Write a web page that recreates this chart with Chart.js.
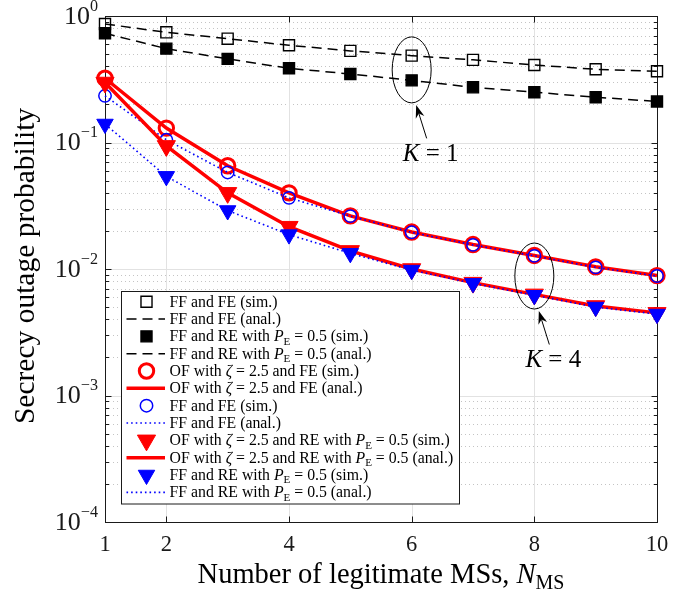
<!DOCTYPE html>
<html>
<head>
<meta charset="utf-8">
<script src="https://cdn.jsdelivr.net/npm/chart.js@4/dist/chart.umd.min.js"></script>
<style>
  body { margin: 0; background: #fff; }
</style>
</head>
<body>
<canvas id="chart" width="697" height="596"></canvas>
<script>
// number of legitimate MSs
const nms = [1, 2, 3, 4, 5, 6, 7, 8, 9, 10];

// K = 1
const ffFeK1 = [0.865, 0.743, 0.662, 0.587, 0.530, 0.486, 0.450, 0.410, 0.379, 0.366];
const ffReK1 = [0.730, 0.552, 0.458, 0.386, 0.348, 0.310, 0.273, 0.250, 0.228, 0.211];
// K = 4
const ofFeK4 = [0.322, 0.130, 0.0655, 0.0400, 0.0263, 0.0196, 0.0156, 0.0128, 0.0104, 0.00887];
const ffFeK4 = [0.234, 0.105, 0.0580, 0.0365, 0.0262, 0.0195, 0.0155, 0.0127, 0.0103, 0.00880];
const ofReK4 = [0.298, 0.094, 0.0400, 0.0216, 0.0139, 0.0100, 0.0078, 0.0063, 0.0051, 0.0045];
const ffReK4 = [0.140, 0.054, 0.0290, 0.0187, 0.0133, 0.0098, 0.0077, 0.0062, 0.0050, 0.0044];

const xTicks = [1, 2, 4, 6, 8, 10];
const yExponents = [0, -1, -2, -3, -4];

const serif = '"Liberation Serif", "DejaVu Serif", serif';

// legend texts: [text, kind] kind = '' | 'i' | 'sub'
const PE = [['P', 'i'], ['E', 'sub']];
const labels = [
  [['FF and FE (sim.)', '']],
  [['FF and FE (anal.)', '']],
  [['FF and RE with ', ''], ...PE, [' = 0.5 (sim.)', '']],
  [['FF and RE with ', ''], ...PE, [' = 0.5 (anal.)', '']],
  [['OF with ', ''], ['ζ', 'i'], [' = 2.5 and FE (sim.)', '']],
  [['OF with ', ''], ['ζ', 'i'], [' = 2.5 and FE (anal.)', '']],
  [['FF and FE (sim.)', '']],
  [['FF and FE (anal.)', '']],
  [['OF with ', ''], ['ζ', 'i'], [' = 2.5 and RE with ', ''], ...PE, [' = 0.5 (sim.)', '']],
  [['OF with ', ''], ['ζ', 'i'], [' = 2.5 and RE with ', ''], ...PE, [' = 0.5 (anal.)', '']],
  [['FF and RE with ', ''], ...PE, [' = 0.5 (sim.)', '']],
  [['FF and RE with ', ''], ...PE, [' = 0.5 (anal.)', '']]
];

// K annotations (ellipse centre in data units)
const groups = [
  { n: 6, p: 0.375, text: [['K', 'i'], [' = 1', '']] },
  { n: 8, p: 0.0088, text: [['K', 'i'], [' = 4', '']] }
];

function pts(vals) {
  return vals.map((v, i) => ({ x: nms[i], y: v }));
}

function sim(vals, style, radius, fill, stroke, bw, rot) {
  return {
    data: pts(vals), showLine: false, clip: false,
    pointStyle: style, pointRadius: radius, pointRotation: rot || 0,
    pointBackgroundColor: fill, pointBorderColor: stroke, pointBorderWidth: bw,
    pointHoverRadius: radius
  };
}

function anal(vals, color, width, dash) {
  return {
    data: pts(vals), clip: false, pointRadius: 0, pointHoverRadius: 0,
    borderColor: color, borderWidth: width, borderDash: dash, fill: false, tension: 0
  };
}

const none = 'rgba(0,0,0,0)';
const datasets = [
  sim(ffFeK1, 'rect', 7.8, none, '#000', 1.4),
  anal(ffFeK1, '#000', 1.5, [10, 6]),
  sim(ffReK1, 'rect', 7.8, '#000', '#000', 1.4),
  anal(ffReK1, '#000', 1.5, [10, 6]),
  sim(ofFeK4, 'circle', 7.2, none, '#ff0000', 3),
  anal(ofFeK4, '#ff0000', 3.5, []),
  sim(ffFeK4, 'circle', 6.2, none, '#0000ff', 1.5),
  anal(ffFeK4, '#0000ff', 1.6, [1.6, 3]),
  sim(ofReK4, 'triangle', 10.5, '#ff0000', '#ff0000', 1, 180),
  anal(ofReK4, '#ff0000', 3.5, []),
  sim(ffReK4, 'triangle', 9.5, '#0000ff', '#0000ff', 1, 180),
  anal(ffReK4, '#0000ff', 1.6, [1.6, 3])
];
datasets.forEach((d, i) => { d.order = -i; });

function drawRich(ctx, parts, x, y, size, align) {
  const fonts = parts.map(([t, k]) => {
    if (k === 'i') return 'italic ' + size + 'px ' + serif;
    if (k === 'sub') return (size * 0.7) + 'px ' + serif;
    if (k === 'sup') return (size * 0.62) + 'px ' + serif;
    return size + 'px ' + serif;
  });
  let w = 0;
  parts.forEach(([t], i) => { ctx.font = fonts[i]; w += ctx.measureText(t).width; });
  let cx = align === 'center' ? x - w / 2 : align === 'right' ? x - w : x;
  ctx.textAlign = 'left';
  ctx.textBaseline = 'alphabetic';
  parts.forEach(([t, k], i) => {
    ctx.font = fonts[i];
    const dy = k === 'sub' ? size * 0.22 : k === 'sup' ? -size * 0.5 : 0;
    ctx.fillText(t, cx, y + dy);
    cx += ctx.measureText(t).width;
  });
}

function seg(ctx, x1, y1, x2, y2) {
  ctx.beginPath();
  ctx.moveTo(x1, y1);
  ctx.lineTo(x2, y2);
  ctx.stroke();
}

function arrow(ctx, x1, y1, x2, y2) {
  const ang = Math.atan2(y2 - y1, x2 - x1);
  const len = 13, hw = 4.5;
  const bx = x2 - Math.cos(ang) * len, by = y2 - Math.sin(ang) * len;
  const nx = -Math.sin(ang), ny = Math.cos(ang);
  ctx.lineWidth = 1;
  seg(ctx, x1, y1, bx + Math.cos(ang) * 4, by + Math.sin(ang) * 4);
  ctx.beginPath();
  ctx.moveTo(x2, y2);
  ctx.lineTo(bx + nx * hw, by + ny * hw);
  ctx.lineTo(bx + Math.cos(ang) * 4, by + Math.sin(ang) * 4);
  ctx.lineTo(bx - nx * hw, by - ny * hw);
  ctx.closePath();
  ctx.fill();
}

const frame = {
  id: 'frame',
  beforeDatasetsDraw(chart) {
    const { ctx, chartArea: a, scales: { x, y } } = chart;
    ctx.save();
    ctx.lineWidth = 1;
    // minor dotted grid
    ctx.strokeStyle = '#c4c4c4';
    ctx.setLineDash([1, 3]);
    for (let e = -4; e < 0; e++) {
      for (let k = 2; k <= 9; k++) {
        const py = Math.round(y.getPixelForValue(k * Math.pow(10, e))) + 0.5;
        seg(ctx, a.left, py, a.right, py);
      }
    }
    // major grid
    ctx.setLineDash([]);
    ctx.strokeStyle = '#e2e2e2';
    xTicks.forEach(v => {
      const px = Math.round(x.getPixelForValue(v)) + 0.5;
      seg(ctx, px, a.top, px, a.bottom);
    });
    yExponents.forEach(e => {
      const py = Math.round(y.getPixelForValue(Math.pow(10, e))) + 0.5;
      seg(ctx, a.left, py, a.right, py);
    });
    // axes box and tick marks
    ctx.strokeStyle = '#1a1a1a';
    const L = Math.round(a.left) + 0.5, R = Math.round(a.right) + 0.5;
    const T = Math.round(a.top) + 0.5, B = Math.round(a.bottom) + 0.5;
    ctx.strokeRect(L, T, R - L, B - T);
    xTicks.forEach(v => {
      const px = Math.round(x.getPixelForValue(v)) + 0.5;
      seg(ctx, px, B, px, B - 6);
      seg(ctx, px, T, px, T + 6);
    });
    for (let e = -4; e <= 0; e++) {
      for (let k = 1; k <= 9; k++) {
        const v = k * Math.pow(10, e);
        if (v > 1) continue;
        const py = Math.round(y.getPixelForValue(v)) + 0.5;
        const len = k === 1 ? 6 : 3.5;
        seg(ctx, L, py, L + len, py);
        seg(ctx, R, py, R - len, py);
      }
    }
    ctx.restore();
  },
  afterDraw(chart) {
    const { ctx, chartArea: a, scales: { x, y } } = chart;
    ctx.save();
    ctx.fillStyle = '#1a1a1a';
    // tick labels
    xTicks.forEach(v => {
      drawRich(ctx, [[String(v), '']], x.getPixelForValue(v), a.bottom + 29, 22.5, 'center');
    });
    yExponents.forEach(e => {
      const py = y.getPixelForValue(Math.pow(10, e));
      const ex = e === 0 ? '0' : '\u2212' + (-e);
      drawRich(ctx, [['10', ''], [ex, 'sup']], a.left - 7, py + 7.5, 26, 'right');
    });
    // axis titles
    ctx.fillStyle = '#000';
    drawRich(ctx, [['Number of legitimate MSs, ', ''], ['N', 'i'], ['MS', 'sub']],
      (a.left + a.right) / 2, 583, 28.5, 'center');
    ctx.save();
    ctx.translate(34, (a.top + a.bottom) / 2 - 3);
    ctx.rotate(-Math.PI / 2);
    drawRich(ctx, [['Secrecy outage probability', '']], 0, 0, 29.5, 'center');
    ctx.restore();

    // K annotations
    ctx.strokeStyle = '#000';
    ctx.fillStyle = '#000';
    groups.forEach(g => {
      const cx = x.getPixelForValue(g.n), cy = y.getPixelForValue(g.p);
      ctx.lineWidth = 1;
      ctx.beginPath();
      ctx.ellipse(cx, cy, 19.5, 33, 0, 0, Math.PI * 2);
      ctx.stroke();
      arrow(ctx, cx + 15, cy + 68.5, cx + 4.5, cy + 35);
      drawRich(ctx, g.text, cx + 19, cy + 91, 25, 'center');
    });

    // legend
    const bx = 121.5, by = 291.5, bw = 338, bh = 212.5;
    ctx.fillStyle = '#fff';
    ctx.fillRect(bx, by, bw, bh);
    ctx.strokeStyle = '#1a1a1a';
    ctx.lineWidth = 1;
    ctx.strokeRect(bx, by, bw, bh);
    datasets.forEach((d, i) => {
      const ry = 301.7 + i * 17.33;
      if (d.showLine === false) {
        ctx.fillStyle = d.pointBackgroundColor;
        ctx.strokeStyle = d.pointBorderColor;
        ctx.lineWidth = d.pointBorderWidth;
        Chart.helpers.drawPoint(ctx, {
          pointStyle: d.pointStyle, radius: d.pointRadius,
          rotation: d.pointRotation, borderWidth: d.pointBorderWidth
        }, 146.5, ry);
      } else {
        ctx.strokeStyle = d.borderColor;
        ctx.lineWidth = d.borderWidth;
        ctx.setLineDash(d.borderDash);
        seg(ctx, 126.5, ry, 165, ry);
        ctx.setLineDash([]);
      }
      ctx.fillStyle = '#000';
      drawRich(ctx, labels[i], 169.5, ry + 5, 15.8, 'left');
    });
    ctx.restore();
  }
};

new Chart(document.getElementById('chart'), {
  type: 'line',
  data: { datasets },
  plugins: [frame],
  options: {
    responsive: false,
    animation: false,
    events: [],
    layout: { padding: { top: 16, right: 40, left: 0, bottom: 0 } },
    plugins: { legend: { display: false }, tooltip: { enabled: false } },
    scales: {
      x: {
        type: 'linear', min: 1, max: 10,
        grid: { display: false }, border: { display: false },
        ticks: { display: false },
        afterFit: s => { s.height = 74; }
      },
      y: {
        type: 'logarithmic', min: 1e-4, max: 1,
        grid: { display: false }, border: { display: false },
        ticks: { display: false },
        afterFit: s => { s.width = 105; }
      }
    }
  }
});
</script>
</body>
</html>
